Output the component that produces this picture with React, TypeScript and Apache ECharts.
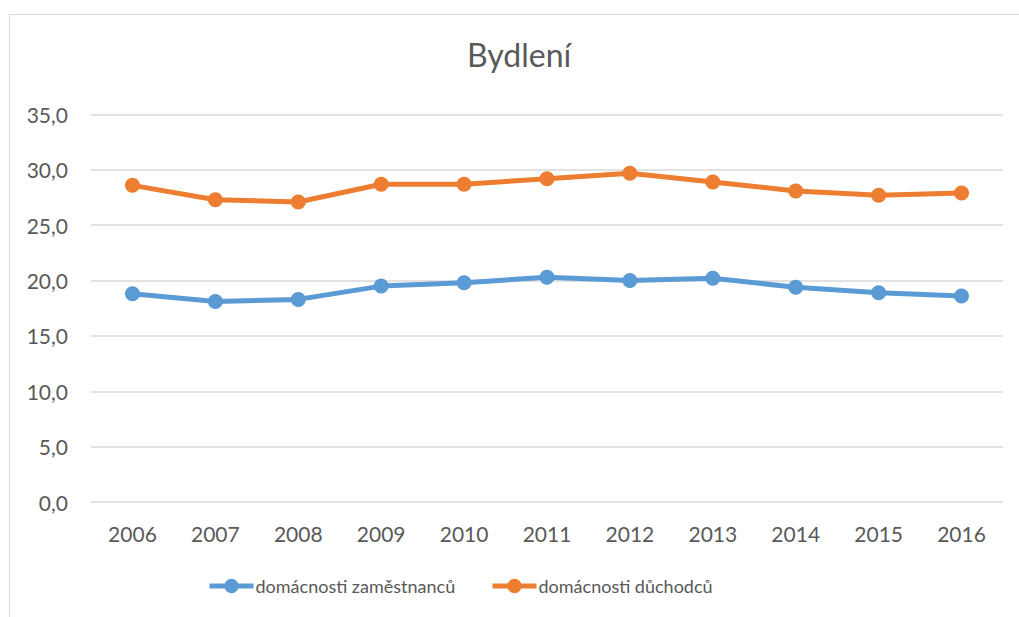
import React, { useEffect, useRef } from "react";
import * as echarts from "echarts";

const years = ["2006", "2007", "2008", "2009", "2010", "2011", "2012", "2013", "2014", "2015", "2016"];
const zamestnanci = [18.8, 18.1, 18.3, 19.5, 19.8, 20.3, 20.0, 20.2, 19.4, 18.9, 18.6];
const duchodci = [28.6, 27.3, 27.1, 28.7, 28.7, 29.2, 29.7, 28.9, 28.1, 27.7, 27.9];
const seriesNames = ["domácnosti zaměstnanců", "domácnosti důchodců"];

const FONT = "Lato";
const TEXT = "#595959";

export default function App() {
  const ref = useRef<HTMLDivElement>(null);
  useEffect(() => {
    if (!ref.current) return;
    const chart = echarts.init(ref.current, undefined, { renderer: "svg" });
    const mk = (name: string, data: number[], color: string) => ({
      name,
      type: "line",
      data,
      symbol: "circle",
      symbolSize: 15,
      lineStyle: { color, width: 5 },
      itemStyle: { color },
      emphasis: { disabled: true },
    });
    const legendBase = {
      top: 577,
      padding: 0,
      itemWidth: 44,
      itemHeight: 18,
      lineStyle: { width: 5 },
      textStyle: { fontFamily: FONT, fontSize: 18, color: TEXT, padding: [0, 0, 0, -3] },
    };
    chart.setOption({
      animation: false,
      backgroundColor: "#ffffff",
      textStyle: { fontFamily: FONT },
      title: {
        text: "Bydlení",
        left: 462,
        top: 33,
        textStyle: { fontFamily: FONT, fontSize: 32, fontWeight: "normal", color: TEXT },
      },
      graphic: [
        {
          type: "rect",
          shape: { x: 9.5, y: 14.5, width: 1030, height: 640 },
          style: { fill: "none", stroke: "#D9D9D9", lineWidth: 1 },
          silent: true,
        },
      ],
      legend: [
        { ...legendBase, left: 207, data: [seriesNames[0]] },
        { ...legendBase, left: 490, data: [seriesNames[1]] },
      ],
      grid: { left: 91, right: 16, top: 114.5, bottom: 115, containLabel: false },
      xAxis: {
        type: "category",
        data: years,
        boundaryGap: true,
        axisLine: { show: false },
        axisTick: { show: false },
        axisLabel: { fontFamily: FONT, fontSize: 21, color: TEXT, margin: 21 },
      },
      yAxis: {
        type: "value",
        min: 0,
        max: 35,
        interval: 5,
        axisLine: { show: false },
        axisTick: { show: false },
        splitLine: { lineStyle: { color: "#D9D9D9", width: 1.5 } },
        axisLabel: {
          fontFamily: FONT,
          fontSize: 21,
          color: TEXT,
          margin: 23,
          formatter: (v: number) => v.toFixed(1).replace(".", ","),
        },
      },
      series: [mk(seriesNames[0], zamestnanci, "#5B9BD5"), mk(seriesNames[1], duchodci, "#ED7D31")],
    });
    return () => chart.dispose();
  }, []);
  return (
    <div
      ref={ref}
      style={{ position: "fixed", left: 0, top: 0, width: 1019, height: 617, background: "#fff" }}
    />
  );
}
